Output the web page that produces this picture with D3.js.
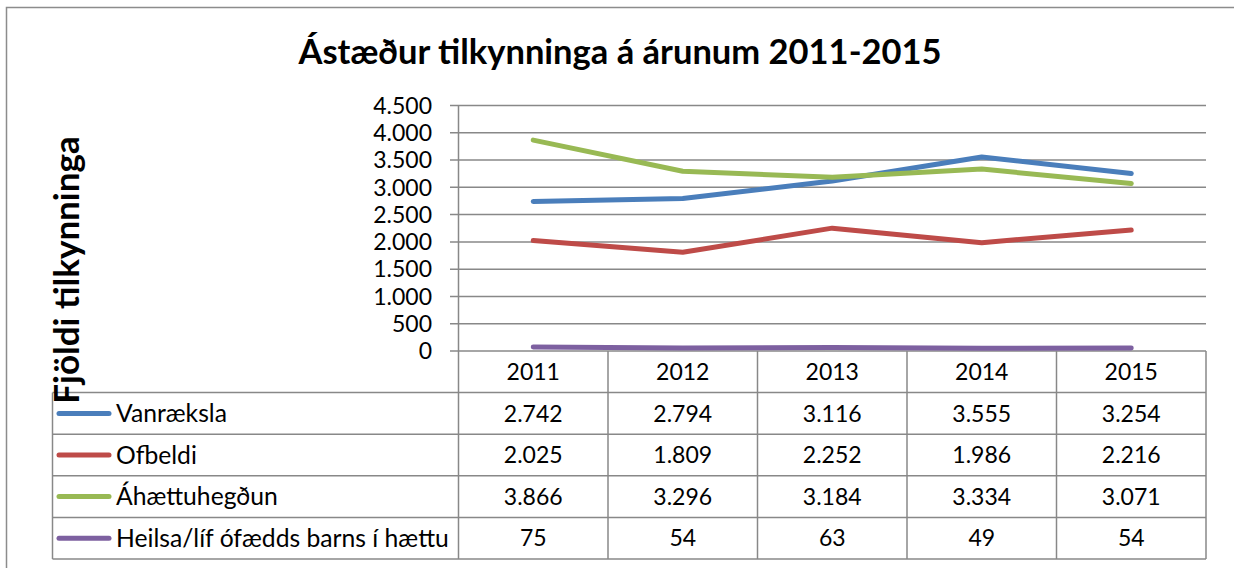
<!DOCTYPE html>
<html>
<head>
<meta charset="utf-8">
<script src="https://cdn.jsdelivr.net/npm/d3@7"></script>
<style>
  body { margin: 0; background: #fff; }
  text { font-family: Lato, "Open Sans", sans-serif; fill: #000; }
</style>
</head>
<body>
<div id="chart"></div>
<script>
// data
var years = ["2011", "2012", "2013", "2014", "2015"];
var seriesNames = ["Vanræksla", "Ofbeldi", "Áhættuhegðun", "Heilsa/líf ófædds barns í hættu"];
var vanraeksla = [2742, 2794, 3116, 3555, 3254];
var ofbeldi = [2025, 1809, 2252, 1986, 2216];
var ahaettuhegdun = [3866, 3296, 3184, 3334, 3071];
var heilsa = [75, 54, 63, 49, 54];
var yTicks = [0, 500, 1000, 1500, 2000, 2500, 3000, 3500, 4000, 4500];
var colors = ["#4a7ebb", "#be4b48", "#98b954", "#7d60a0"];

var series = [vanraeksla, ofbeldi, ahaettuhegdun, heilsa];

var width = 1234,
    height = 568;

var is = d3.formatLocale({decimal: ",", thousands: ".", grouping: [3], currency: ["", " kr"]});
var fmt = is.format(",d");

var svg = d3.select("#chart").append("svg")
    .attr("width", width)
    .attr("height", height);

// chart border
svg.append("rect")
    .attr("x", 6.5).attr("y", 7.5)
    .attr("width", 1300).attr("height", 600)
    .attr("fill", "#fff")
    .attr("stroke", "#8c8c8c")
    .attr("stroke-width", 1.5);

// title
svg.append("text")
    .attr("x", 620)
    .attr("y", 64)
    .attr("text-anchor", "middle")
    .style("font-size", "34.5px")
    .style("font-weight", "bold")
    .text("Ástæður tilkynninga á árunum 2011-2015");

var plotLeft = 458.5, plotRight = 1206, plotTop = 105.5, plotBottom = 351;
var rowH = 41.6;
var legendLeft = 52.5;

var x = d3.scaleBand().domain(years).range([plotLeft, plotRight]).padding(0);
var y = d3.scaleLinear().domain([0, 4500]).range([plotBottom, plotTop]);

// gridlines + tick marks
svg.selectAll(".grid")
    .data(yTicks)
    .enter().append("line")
    .attr("x1", 450).attr("x2", plotRight)
    .attr("y1", function(d){ return y(d); })
    .attr("y2", function(d){ return y(d); })
    .attr("stroke", "#888")
    .attr("stroke-width", 1.5);

// y axis labels
svg.selectAll(".ylab")
    .data(yTicks)
    .enter().append("text")
    .attr("x", 432)
    .attr("y", function(d){ return y(d); })
    .attr("dy", "0.36em")
    .attr("text-anchor", "end")
    .style("font-size", "23px")
    .text(function(d){ return fmt(d); });

// data table
var tableBottom = plotBottom + rowH * 5;
var grid = svg.append("g")
    .attr("stroke", "#888")
    .attr("stroke-width", 1.5);

// y axis line down through the table
grid.append("line")
    .attr("x1", plotLeft).attr("x2", plotLeft)
    .attr("y1", plotTop).attr("y2", tableBottom);

// column lines
years.forEach(function(yr){
    var xr = x(yr) + x.bandwidth();
    grid.append("line")
        .attr("x1", xr).attr("x2", xr)
        .attr("y1", plotBottom).attr("y2", tableBottom);
});

// row lines
for (var r = 1; r <= 5; r++) {
    grid.append("line")
        .attr("x1", legendLeft).attr("x2", plotRight)
        .attr("y1", plotBottom + rowH * r).attr("y2", plotBottom + rowH * r);
}
grid.append("line")
    .attr("x1", legendLeft).attr("x2", legendLeft)
    .attr("y1", plotBottom + rowH).attr("y2", tableBottom);

// y axis title (drawn over the table corner like the original)
svg.append("text")
    .attr("transform", "translate(79,270) rotate(-90)")
    .attr("text-anchor", "middle")
    .style("font-size", "35px")
    .style("font-weight", "bold")
    .text("Fjöldi tilkynninga");

// header years
svg.selectAll(".year")
    .data(years)
    .enter().append("text")
    .attr("x", function(d){ return x(d) + x.bandwidth() / 2; })
    .attr("y", plotBottom + rowH / 2)
    .attr("dy", "0.36em")
    .attr("text-anchor", "middle")
    .style("font-size", "23px")
    .text(function(d){ return d; });

// rows
series.forEach(function(vals, i){
    var cy = plotBottom + rowH * (i + 1) + rowH / 2;
    svg.append("line")
        .attr("x1", 59).attr("x2", 109)
        .attr("y1", cy).attr("y2", cy)
        .attr("stroke", colors[i])
        .attr("stroke-width", 5)
        .attr("stroke-linecap", "round");
    svg.append("text")
        .attr("x", 116)
        .attr("y", cy)
        .attr("dy", "0.36em")
        .style("font-size", "24.7px")
        .text(seriesNames[i]);
    svg.selectAll(".v" + i)
        .data(vals)
        .enter().append("text")
        .attr("x", function(d, j){ return x(years[j]) + x.bandwidth() / 2; })
        .attr("y", cy)
        .attr("dy", "0.36em")
        .attr("text-anchor", "middle")
        .style("font-size", "23px")
        .text(function(d){ return fmt(d); });
});

// lines
var line = d3.line()
    .x(function(d, j){ return x(years[j]) + x.bandwidth() / 2; })
    .y(function(d){ return y(d); });

series.forEach(function(vals, i){
    svg.append("path")
        .datum(vals)
        .attr("d", line)
        .attr("fill", "none")
        .attr("stroke", colors[i])
        .attr("stroke-width", 5)
        .attr("stroke-linecap", "round")
        .attr("stroke-linejoin", "round");
});
</script>
</body>
</html>
